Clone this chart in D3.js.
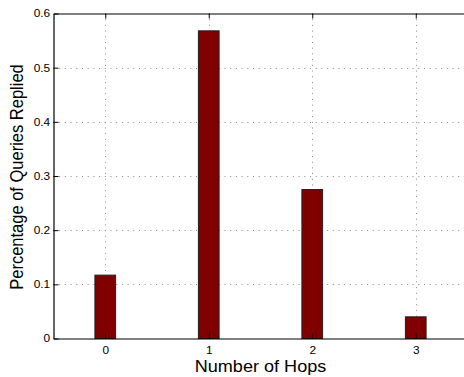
<!DOCTYPE html>
<html>
<head>
<meta charset="utf-8">
<script src="https://cdn.jsdelivr.net/npm/d3@7"></script>
<style>
  html, body { margin: 0; padding: 0; background: #fff; }
  svg { display: block; font-family: "Liberation Sans", Arial, Helvetica, sans-serif; }
</style>
</head>
<body>
<svg id="chart" width="464" height="377"></svg>
<script>
// Share of queries answered, by number of hops
const hops = [0, 1, 2, 3];
const replied = [0.117, 0.568, 0.275, 0.04];
const yTicks = [0, 0.1, 0.2, 0.3, 0.4, 0.5, 0.6];
const yTickLabels = ["0", "0.1", "0.2", "0.3", "0.4", "0.5", "0.6"];

const svg = d3.select("#chart");
const plotLeft = 53.5, plotRight = 467.5, plotTop = 13.5, plotBottom = 338.5;
const stretch = 1.13; // text is drawn slightly wide

const x = d3.scaleLinear().domain([-0.5, 3.5]).range([plotLeft, plotRight]);
const y = d3.scaleLinear().domain([0, 0.6]).range([plotBottom, plotTop]);
const barW = x(0.2) - x(0);

// dotted grid
const grid = svg.append("g").attr("stroke", "#888").attr("stroke-width", 1)
  .attr("stroke-dasharray", "1 4.7");
grid.selectAll("line.gx").data(hops).join("line")
  .attr("x1", d => Math.round(x(d)) + 0.5).attr("x2", d => Math.round(x(d)) + 0.5)
  .attr("y1", plotTop).attr("y2", plotBottom);
grid.selectAll("line.gy").data(yTicks.slice(1, -1)).join("line")
  .attr("y1", d => Math.round(y(d)) + 0.5).attr("y2", d => Math.round(y(d)) + 0.5)
  .attr("x1", plotLeft).attr("x2", plotRight);

// bars
svg.append("g").selectAll("rect").data(hops).join("rect")
  .attr("x", (d, i) => x(d) - barW / 2)
  .attr("width", barW)
  .attr("y", (d, i) => y(replied[i]))
  .attr("height", (d, i) => y(0) - y(replied[i]))
  .attr("fill", "#800000")
  .attr("stroke", "#222")
  .attr("stroke-width", 1);

// axes
const yAxis = d3.axisLeft(y).tickValues(yTicks).tickFormat((d, i) => yTickLabels[i])
  .tickSizeInner(-5).tickSizeOuter(0).tickPadding(3);
svg.append("g").attr("transform", `translate(${plotLeft},0)`).call(yAxis);
const xAxis = d3.axisBottom(x).tickValues(hops).tickFormat(d3.format("d"))
  .tickSizeInner(-5).tickSizeOuter(0).tickPadding(8);
svg.append("g").attr("transform", `translate(0,${plotBottom})`).call(xAxis);
const xTop = d3.axisTop(x).tickValues(hops).tickFormat("").tickSizeInner(-5).tickSizeOuter(0);
svg.append("g").attr("transform", `translate(0,${plotTop})`).call(xTop);

svg.selectAll(".domain").attr("stroke", "#000").attr("stroke-width", 1.2);
svg.selectAll(".tick line").attr("stroke", "#000");
svg.selectAll(".tick text").attr("font-size", 10.5).attr("fill", "#000")
  .attr("font-family", "'Liberation Sans', Arial, sans-serif")
  .attr("transform", `scale(${stretch},1)`);

// axis titles
svg.append("text")
  .attr("transform", `translate(${x(1.5)},372) scale(${stretch},1)`)
  .attr("text-anchor", "middle")
  .attr("font-size", 16)
  .text("Number of Hops");
svg.append("text")
  .attr("transform", `translate(23,177) rotate(-90) scale(1,${stretch})`)
  .attr("text-anchor", "middle")
  .attr("font-size", 16.5)
  .text("Percentage of Queries Replied");
</script>
</body>
</html>
